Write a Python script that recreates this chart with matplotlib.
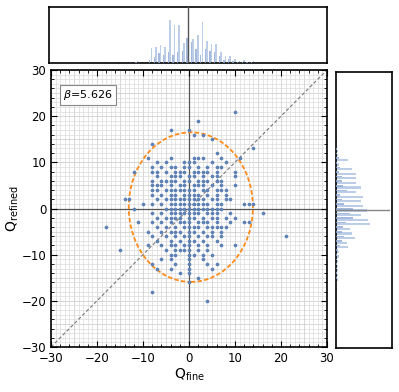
import numpy as np
import matplotlib
matplotlib.use("Agg")
import matplotlib.pyplot as plt
from matplotlib.patches import Ellipse
from matplotlib.ticker import MultipleLocator

# scatter points, grouped by Q_refined row
row_y = [21, 19, 17, 16, 15, 14, 13, 12, 11, 10, 9, 8, 7, 6, 5, 4, 3, 2, 1, 0,
         -1, -2, -3, -4, -5, -6, -7, -8, -9, -10, -11, -12, -13, -14, -15, -16, -18, -20]
row_x = [
    [10], [2], [-4, 0], [1, 3], [5], [-8], [14], [6],
    [-9, -4, 1, 2, 3, 7, 11],
    [-7, -5, -1, 0, 1, 5, 8],
    [-8, -6, -4, -3, -1, 0, 2, 4, 6, 7],
    [-12, -8, -7, -5, -3, -2, -1, 1, 2, 3, 4, 6, 10],
    [-7, -4, -3, -2, 0, 1, 3, 5, 6, 10],
    [-8, -6, -5, -4, -3, -1, 0, 2, 3, 4, 6, 7],
    [-8, -7, -6, -4, -2, -1, 1, 2, 3, 5, 7, 10],
    [-8, -7, -5, -4, -3, -2, -1, 0, 1, 3, 4, 6, 7, 8],
    [-8, -6, -4, -3, -1, 0, 1, 2, 4, 6, 8],
    [-14, -13, -7, -5, -4, -3, -2, -1, 0, 1, 2, 3, 5, 6, 8, 9],
    [-10, -8, -6, -4, -3, -2, -1, 0, 1, 2, 3, 4, 6, 7, 12, 13, 14],
    [-12, -5, -4, -3, -2, -1, 0, 1, 2, 3, 4, 5, 6, 7],
    [-8, -6, -4, -3, -2, -1, 0, 1, 2, 4, 5, 6, 9, 16],
    [-7, -5, -4, -3, -2, 0, 1, 3, 5, 6, 8, 10],
    [-11, -8, -6, -4, -2, -1, 0, 2, 3, 4, 6, 9, 12, 13],
    [-18, -7, -5, -3, -1, 0, 1, 2, 4, 5, 6, 7, 8],
    [-9, -6, -4, -3, -2, 0, 1, 3, 5, 7],
    [-8, -5, -3, -1, 0, 2, 4, 5, 7, 21],
    [-7, -4, -2, 0, 1, 3, 6],
    [-9, -6, -4, -3, -1, 0, 2, 4, 7, 10],
    [-15, -5, -3, -2, -1, 0, 2, 4],
    [-4, -3, 0, 1, 3, 5],
    [-6, -4, 0, 3],
    [-8, -3, 0, 4, 6],
    [-7, -4, 0, 5],
    [-2, 0], [2], [0], [-8], [4],
]
q_fine = np.array([x for xs in row_x for x in xs])
q_refined = np.array([y for y, xs in zip(row_y, row_x) for _ in xs])

# top histogram (Q_fine), relative heights
top_bins = [-18, -15, -14, -13, -12, -11, -10, -9, -8, -7, -6, -5, -4, -3, -2, -1, 0,
            1, 2, 3, 4, 5, 6, 7, 8, 9, 10, 11, 12, 13, 14, 16, 21]
top_light = [0.01, 0.01, 0.02, 0.02, 0.02, 0.03, 0.02, 0.02, 0.26, 0.29, 0.33, 0.29, 0.77, 0.67, 0.67, 0.36, 0.45,
             0.43, 0.50, 0.73, 0.40, 0.34, 0.34, 0.20, 0.13, 0.13, 0.08, 0.04, 0.06, 0.02, 0.03, 0.01, 0.01]
top_dark = [0.0, 0.0, 0.0, 0.0, 0.0, 0.01, 0.0, 0.0, 0.05, 0.10, 0.18, 0.15, 0.20, 0.15, 0.20, 0.22, 0.45,
            0.38, 0.25, 0.15, 0.25, 0.22, 0.20, 0.12, 0.05, 0.08, 0.03, 0.02, 0.02, 0.01, 0.01, 0.0, 0.0]

# right histogram (Q_refined), relative lengths
right_bins = [20, 18, 16, 15, 14, 13, 12, 11, 10, 9, 8, 7, 6, 5, 4, 3, 2, 1, 0,
              -1, -2, -3, -4, -5, -6, -7, -8, -9, -10, -11, -12, -13, -14, -15, -17, -19]
right_light = [0.02, 0.02, 0.02, 0.02, 0.02, 0.03, 0.03, 0.21, 0.05, 0.28, 0.36, 0.36, 0.36, 0.45, 0.36, 0.48, 0.45, 0.48, 0.55,
               0.45, 0.58, 0.60, 0.25, 0.28, 0.34, 0.20, 0.21, 0.06, 0.05, 0.04, 0.04, 0.04, 0.03, 0.03, 0.02, 0.02]
right_dark = [0.0, 0.0, 0.0, 0.0, 0.0, 0.01, 0.01, 0.05, 0.02, 0.08, 0.06, 0.10, 0.10, 0.12, 0.20, 0.08, 0.10, 0.15, 0.30,
              0.25, 0.30, 0.18, 0.12, 0.10, 0.15, 0.10, 0.08, 0.03, 0.02, 0.02, 0.02, 0.02, 0.01, 0.01, 0.0, 0.0]

ticks = [-30, -20, -10, 0, 10, 20, 30]
tick_labels = ["\u221230", "\u221220", "\u221210", "0", "10", "20", "30"]
beta_text = r"$\beta$=5.626"
ell_center = (0.4, 0.3)
ell_width, ell_height = 27.0, 32.4

blue = "#5e81b5"
light = "#bccde8"
dark = "#8ea8d2"

fig = plt.figure(figsize=(3.99, 3.92), dpi=100)
ax = fig.add_axes([0.1278, 0.1148, 0.6917, 0.7066])
axt = fig.add_axes([0.1228, 0.8393, 0.6967, 0.1429])
axr = fig.add_axes([0.8421, 0.1122, 0.1404, 0.704])

# main panel
for v in range(-30, 31):
    c = "#c8c8c8" if v % 5 == 0 else "#dcdcdc"
    ax.axvline(v, color=c, lw=0.5, zorder=0)
    ax.axhline(v, color=c, lw=0.5, zorder=0)
ax.axvline(0, color="#555555", lw=0.9, zorder=1)
ax.axhline(0, color="#555555", lw=0.9, zorder=1)
ax.plot([-30, 30], [-30, 30], color="#777777", lw=0.8, ls=(0, (3, 2)), zorder=2)
ax.add_patch(Ellipse(ell_center, ell_width, ell_height, fill=False,
                     edgecolor="#ff8c1a", lw=1.3, ls=(0, (2.5, 1.2)), zorder=3))
ax.scatter(q_fine, q_refined, s=7, color=blue, zorder=4, linewidths=0)
ax.set_xticks(ticks)
ax.set_yticks(ticks)
ax.set_xticklabels(tick_labels)
ax.set_yticklabels(tick_labels)
ax.xaxis.set_minor_locator(MultipleLocator(2))
ax.yaxis.set_minor_locator(MultipleLocator(2))
ax.set_xlim(-30, 30)
ax.set_ylim(-30, 30)
ax.tick_params(which="both", direction="in", top=True, right=True, labelsize=8.5)
ax.tick_params(which="major", length=4, width=0.8)
ax.tick_params(which="minor", length=2, width=0.6)
ax.set_xlabel(r"$\mathregular{Q_{fine}}$", fontsize=10, labelpad=1)
ax.set_ylabel(r"$\mathregular{Q_{refined}}$", fontsize=10, labelpad=0)
ax.text(0.045, 0.935, beta_text, transform=ax.transAxes, fontsize=8, va="top", ha="left",
        bbox=dict(boxstyle="square,pad=0.3", fc="white", ec="#888888", lw=0.8), zorder=5)
for s in ax.spines.values():
    s.set_linewidth(1.2)

# top histogram
axt.bar(np.array(top_bins) + 0.1, top_light, width=0.35, color=light, zorder=2)
axt.bar(np.array(top_bins) - 0.25, top_dark, width=0.3, color=dark, alpha=0.8, zorder=3)
axt.axvline(0, color="#555555", lw=1.0, zorder=4)
axt.set_xlim(-30, 30)
axt.set_ylim(0, 1.0)
axt.set_xticks([])
axt.set_yticks([])
for s in axt.spines.values():
    s.set_linewidth(1.2)

# right histogram
axr.barh(np.array(right_bins) - 0.1, right_light, height=0.45, color=light, zorder=2)
axr.barh(np.array(right_bins) + 0.25, right_dark, height=0.35, color=dark, alpha=0.8, zorder=3)
axr.plot([0, 0.95], [0, 0], color="#888888", lw=1.0, zorder=4)
axr.set_ylim(-30, 30)
axr.set_xlim(0, 1.0)
axr.set_xticks([])
axr.set_yticks([])
for s in axr.spines.values():
    s.set_linewidth(1.2)

fig.savefig("out.png", dpi=100)
